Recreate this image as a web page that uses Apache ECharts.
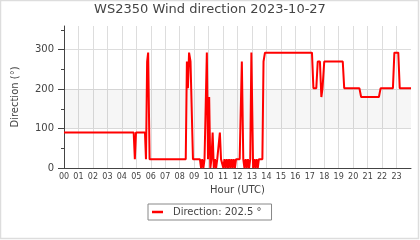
<!DOCTYPE html>
<html>
<head>
<meta charset="utf-8">
<script src="https://cdn.jsdelivr.net/npm/echarts@6/dist/echarts.min.js"></script>
<style>html,body{margin:0;padding:0;background:#fff}#c{width:420px;height:240px}</style>
</head>
<body>
<div id="c"></div>
<script>
// Hours (UTC) of read breakpoints and wind direction (degrees)
const hours = [
  0, 4.82, 4.9, 4.98, 5.6, 5.67, 5.75, 5.82, 5.92,
  8.42, 8.5, 8.57, 8.65, 8.75, 8.85, 8.92,
  9.4, 9.48, 9.56, 9.64, 9.72, 9.8, 9.88, 9.96, 10.04, 10.12, 10.2, 10.28, 10.36, 10.44, 10.52, 10.6, 10.7, 10.78, 10.86,
  10.94, 11.02, 11.1, 11.18, 11.26, 11.34, 11.42, 11.5, 11.58, 11.66, 11.74, 11.82, 11.9, 12.15, 12.3, 12.4,
  12.48, 12.56, 12.64, 12.72, 12.8, 12.88, 12.96, 13.02, 13.08, 13.16, 13.24, 13.32, 13.4, 13.48, 13.72, 13.8, 13.9,
  17.15, 17.25, 17.45, 17.55, 17.7, 17.8, 17.88, 18.0, 19.28, 19.38, 20.43, 20.55, 21.78, 21.9, 22.75, 22.85, 23.12, 23.22, 24
];
const directions = [
  90, 90, 22.5, 90, 90, 22.5, 270, 292.5, 22.5,
  22.5, 270, 202.5, 292.5, 270, 270, 22.5,
  22.5, 0, 22.5, 0, 22.5, 22.5, 292.5, 22.5, 180, 0, 22.5, 90, 0, 22.5, 0, 22.5, 22.5, 90, 22.5,
  22.5, 0, 22.5, 0, 22.5, 0, 22.5, 0, 22.5, 0, 22.5, 0, 22.5, 22.5, 270, 22.5,
  0, 22.5, 0, 22.5, 0, 22.5, 292.5, 292.5, 0, 22.5, 0, 22.5, 0, 22.5, 22.5, 270, 292.5,
  292.5, 202.5, 202.5, 270, 270, 180, 202.5, 270, 270, 202.5, 202.5, 180, 180, 202.5, 202.5, 292.5, 292.5, 202.5, 202.5
];
const yMajorTicks = [0, 100, 200, 300];
const yMinorTicks = [50, 150, 250, 350];
const bandRange = [100, 200];

const pts = hours.map((h, i) => [h, directions[i]]);
const lastVal = directions[directions.length - 1];
const seriesName = 'Direction: ' + lastVal + ' °';
const FONT = 'DejaVu Sans';
const TXT = '#444';

const chart = echarts.init(document.getElementById('c'), null, {renderer: 'canvas'});
chart.setOption({
  animation: false,
  backgroundColor: '#fff',
  title: {
    text: 'WS2350 Wind direction 2023-10-27',
    left: 'center', top: 3, padding: 0,
    textStyle: {fontFamily: FONT, fontSize: 13, fontWeight: 'normal', color: TXT}
  },
  graphic: [{
    type: 'rect', silent: true, z: -10,
    shape: {x: 0.5, y: 0.5, width: 418, height: 238},
    style: {fill: 'none', stroke: '#ddd', lineWidth: 1.5}
  }],
  legend: {
    left: 148, top: 204,
    padding: [3, 10, 3, 4],
    borderColor: '#888', borderWidth: 1,
    itemWidth: 11, itemHeight: 2.5, icon: 'rect',
    textStyle: {fontFamily: FONT, fontSize: 10, color: TXT, padding: [0, 0, 0, 5]},
    data: [seriesName]
  },
  grid: {left: 64, right: 9, top: 26, bottom: 72},
  xAxis: {
    type: 'value', min: 0, max: 24, interval: 1,
    name: 'Hour (UTC)', nameLocation: 'middle', nameGap: 14,
    nameTextStyle: {fontFamily: FONT, fontSize: 10, color: TXT},
    axisLine: {lineStyle: {color: '#444', width: 1}},
    axisTick: {show: false},
    axisLabel: {
      fontFamily: FONT, fontSize: 8, color: TXT, margin: 5,
      formatter: v => v < 24 ? String(v).padStart(2, '0') : ''
    },
    splitLine: {show: true, showMinLine: false, showMaxLine: false, lineStyle: {color: '#ddd', width: 1}}
  },
  yAxis: [{
    type: 'value', min: 0, max: 360, interval: 100,
    name: 'Direction (°)', nameLocation: 'middle', nameGap: 44, nameRotate: 90,
    nameTextStyle: {fontFamily: FONT, fontSize: 10, color: TXT},
    axisLine: {show: true, lineStyle: {color: '#444', width: 1}},
    axisTick: {show: true, length: 6, customValues: yMajorTicks, lineStyle: {color: '#444'}},
    axisLabel: {fontFamily: FONT, fontSize: 10, color: TXT, margin: 10, customValues: yMajorTicks},
    splitLine: {show: true, showMinLine: false, lineStyle: {color: '#ddd', width: 1}}
  }, {
    type: 'value', min: 0, max: 360, position: 'left',
    axisLine: {show: false},
    axisTick: {show: true, length: 3, customValues: yMinorTicks, lineStyle: {color: '#444'}},
    axisLabel: {show: false},
    splitLine: {show: false}
  }],
  series: [{
    name: seriesName,
    type: 'line',
    data: pts,
    showSymbol: false,
    symbol: 'none',
    itemStyle: {color: '#ff0000'},
    lineStyle: {color: '#ff0000', width: 2},
    markArea: {
      silent: true,
      itemStyle: {color: 'rgba(0,0,0,0.035)'},
      data: [[{yAxis: bandRange[0]}, {yAxis: bandRange[1]}]]
    }
  }]
});
</script>
</body>
</html>
